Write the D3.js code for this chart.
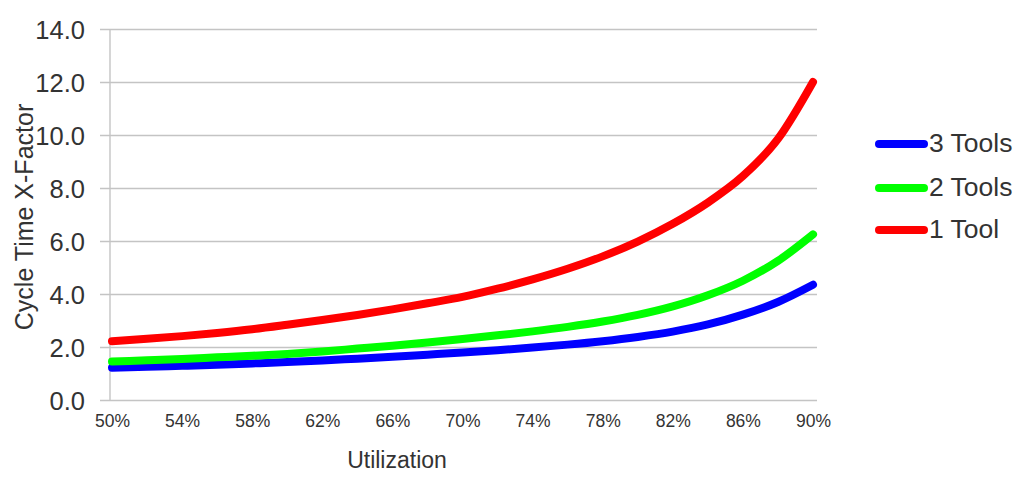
<!DOCTYPE html>
<html>
<head>
<meta charset="utf-8">
<script src="https://cdn.jsdelivr.net/npm/d3@7"></script>
<style>
  body { margin: 0; background: #fff; }
  text { font-family: "Liberation Sans", Arial, sans-serif; fill: #333; }
</style>
</head>
<body>
<svg id="chart" width="1021" height="480"></svg>
<script>
// utilization in percent, every 2%
let utilization = [50, 52, 54, 56, 58, 60, 62, 64, 66, 68, 70, 72, 74, 76, 78, 80, 82, 84, 86, 88, 90];

let threeTools = [1.22, 1.25, 1.29, 1.33, 1.38, 1.43, 1.49, 1.56, 1.63, 1.71, 1.79, 1.88, 1.98, 2.09, 2.22, 2.38, 2.58, 2.85, 3.22, 3.70, 4.35];
let twoTools   = [1.45, 1.50, 1.55, 1.61, 1.67, 1.74, 1.83, 1.94, 2.05, 2.17, 2.30, 2.44, 2.59, 2.76, 2.96, 3.21, 3.53, 3.95, 4.50, 5.25, 6.25];
let oneTool    = [2.22, 2.31, 2.41, 2.53, 2.67, 2.84, 3.02, 3.21, 3.42, 3.65, 3.89, 4.20, 4.55, 4.95, 5.42, 5.98, 6.65, 7.45, 8.45, 9.85, 12.0];

let seriesNames = ["3 Tools", "2 Tools", "1 Tool"];
let seriesColors = ["#0000ff", "#00ff00", "#ff0000"];

let xTicks = [50, 54, 58, 62, 66, 70, 74, 78, 82, 86, 90];
let yTicks = [0, 2, 4, 6, 8, 10, 12, 14];

let svg = d3.select("#chart");

let x = d3.scaleLinear().domain([50, 90]).range([112, 813]);
let y = d3.scaleLinear().domain([0, 14]).range([400, 29]);

// horizontal gridlines, they stick out left of the axis like Excel tick marks
let yAxis = d3.axisLeft(y)
    .tickValues(yTicks)
    .tickFormat(d3.format(".1f"))
    .tickSize(717)
    .tickPadding(15);

let gy = svg.append("g")
    .attr("transform", "translate(817,0)")
    .call(yAxis);
gy.select(".domain").remove();
gy.selectAll("line")
  .attr("stroke", "#c4c4c4")
  .attr("stroke-width", 1.4);
gy.selectAll("text")
  .attr("x", -732)
  .attr("dy", "0.36em")
  .style("font-size", "25.5px")
  .style("fill", "#333");

svg.append("line")
   .attr("x1", 110).attr("x2", 110)
   .attr("y1", y(14)).attr("y2", y(0))
   .attr("stroke", "#c4c4c4")
   .attr("stroke-width", 1.4);

let xAxis = d3.axisBottom(x)
    .tickValues(xTicks)
    .tickFormat(d => d + "%")
    .tickSize(0)
    .tickPadding(15);

let gx = svg.append("g")
    .attr("transform", "translate(0,400)")
    .call(xAxis);
gx.select(".domain").remove();
gx.selectAll("text")
  .style("font-size", "17.5px")
  .style("fill", "#333");

let line = d3.line()
    .x((d, i) => x(utilization[i]))
    .y(d => y(d))
    .curve(d3.curveMonotoneX);

let allSeries = [threeTools, twoTools, oneTool];

svg.append("g")
   .selectAll("path")
   .data(allSeries)
   .join("path")
   .attr("d", line)
   .attr("fill", "none")
   .attr("stroke", (d, i) => seriesColors[i])
   .attr("stroke-width", 8)
   .attr("stroke-linecap", "round")
   .attr("stroke-linejoin", "round");

// axis titles
svg.append("text")
   .attr("x", 397)
   .attr("y", 468)
   .attr("text-anchor", "middle")
   .style("font-size", "23px")
   .text("Utilization");

svg.append("text")
   .attr("transform", "translate(33,217) rotate(-90)")
   .attr("text-anchor", "middle")
   .style("font-size", "25px")
   .text("Cycle Time X-Factor");

// legend
let legendY = [144, 188, 230];
let legend = svg.append("g")
    .selectAll("g")
    .data(seriesNames)
    .join("g")
    .attr("transform", (d, i) => "translate(0," + legendY[i] + ")");

legend.append("line")
      .attr("x1", 879).attr("x2", 924)
      .attr("y1", 0).attr("y2", 0)
      .attr("stroke", (d, i) => seriesColors[i])
      .attr("stroke-width", 8)
      .attr("stroke-linecap", "round");

legend.append("text")
      .attr("x", 929)
      .attr("y", 8)
      .style("font-size", "26.5px")
      .text(d => d);
</script>
</body>
</html>
